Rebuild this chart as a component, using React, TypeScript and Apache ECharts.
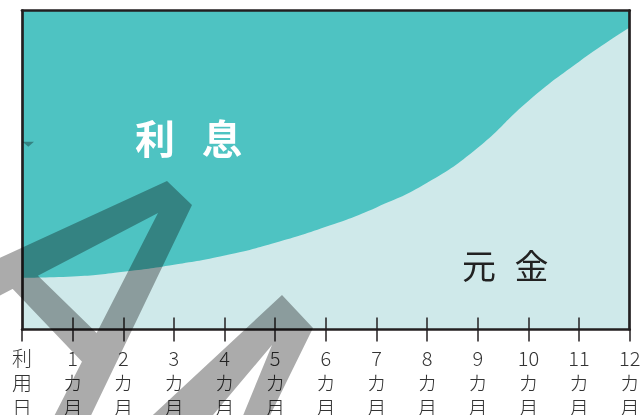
import React, { useEffect, useRef } from "react";
import * as echarts from "echarts";

const categories = ["利用日", "1カ月", "2カ月", "3カ月", "4カ月", "5カ月", "6カ月", "7カ月", "8カ月", "9カ月", "10カ月", "11カ月", "12カ月"];
// share of principal (元金) in each payment, percent
const principalShare = [16.2, 16.6, 18.1, 20.3, 23.2, 27.2, 32.2, 38.3, 46.0, 57.0, 71.7, 84.0, 94.7];
const areaLabels = ["利", "息", "元", "金"];

const overlayPath =
  "M-20,267 L167,181 L192,205 L84,430 L47,430 L158,213 L-20,306 Z " +
  "M30,268 L108,344 L88,368 L8,284 Z " +
  "M282,295 L313,328 L258,440 L233,440 L272,345 L192,440 L126,440 Z " +
  "M22.5,141.7 L34,141.7 L28.3,146.8 Z";

let registered = false;

const TEAL = "#4EC3C2";
const LIGHT = "#CFE9EA";
const INK = "#231F20";
const FONT = '"Noto Sans CJK JP", "Noto Sans", sans-serif';

export default function App() {
  const ref = useRef<HTMLDivElement>(null);
  useEffect(() => {
    if (!ref.current) return;
    if (!registered) {
      echarts.graphic.registerShape("scribble", echarts.graphic.extendPath(overlayPath, {}));
      registered = true;
    }
    const chart = echarts.init(ref.current, null, { renderer: "svg" });
    const frameLine = { show: true, lineStyle: { color: INK, width: 2.7 } };
    const fmt = (v: string) => (v.match(/\d+|./g) || []).join("\n");
    chart.setOption({
      animation: false,
      grid: {
        left: 22,
        right: 14.3,
        top: 10.7,
        bottom: 85.5,
        containLabel: false,
        outerBoundsMode: "none",
        show: true,
        backgroundColor: TEAL,
        borderWidth: 0,
      },
      xAxis: [
        {
          type: "category",
          data: categories,
          boundaryGap: false,
          position: "bottom",
          z: 5,
          axisLine: { show: true, lineStyle: { color: INK, width: 2.5 } },
          axisTick: { show: true, inside: false, length: 12, lineStyle: { color: INK, width: 1.5 } },
          axisLabel: {
            interval: 0,
            margin: 15,
            formatter: fmt,
            color: "#333",
            fontFamily: FONT,
            fontSize: 20,
            fontWeight: 300,
            lineHeight: 25,
            align: "center",
            verticalAlign: "top",
            hideOverlap: false,
          },
          splitLine: { show: false },
        },
        {
          type: "category",
          data: categories,
          boundaryGap: false,
          position: "bottom",
          z: 5,
          axisLine: { show: false },
          axisTick: {
            show: true,
            inside: true,
            length: 12,
            interval: (i: number) => i !== 0 && i !== categories.length - 1,
            lineStyle: { color: INK, width: 1.5 },
          },
          axisLabel: { show: false },
          splitLine: { show: false },
        },
        {
          type: "category",
          data: categories,
          boundaryGap: false,
          position: "top",
          z: 5,
          axisLine: frameLine,
          axisTick: { show: false },
          axisLabel: { show: false },
          splitLine: { show: false },
        },
      ],
      yAxis: [
        {
          type: "value",
          min: 0,
          max: 100,
          position: "left",
          z: 5,
          axisLine: frameLine,
          axisTick: { show: false },
          axisLabel: { show: false },
          splitLine: { show: false },
        },
        {
          type: "value",
          min: 0,
          max: 100,
          position: "right",
          z: 5,
          axisLine: frameLine,
          axisTick: { show: false },
          axisLabel: { show: false },
          splitLine: { show: false },
        },
      ],
      series: [
        {
          type: "line",
          xAxisIndex: 0,
          yAxisIndex: 0,
          data: principalShare,
          smooth: 0.5,
          symbol: "none",
          lineStyle: { width: 0, color: LIGHT },
          areaStyle: { color: LIGHT, opacity: 1 },
          z: 2,
        },
      ],
      graphic: [
        {
          type: "text",
          x: 155,
          y: 137,
          z: 20,
          style: { text: areaLabels[0], fill: "#fff", fontSize: 40, fontWeight: "bold", fontFamily: FONT, align: "center", verticalAlign: "middle", textAlign: "center", textVerticalAlign: "middle" },
        },
        {
          type: "text",
          x: 222,
          y: 137,
          z: 20,
          style: { text: areaLabels[1], fill: "#fff", fontSize: 40, fontWeight: "bold", fontFamily: FONT, align: "center", verticalAlign: "middle", textAlign: "center", textVerticalAlign: "middle" },
        },
        {
          type: "text",
          x: 479,
          y: 264,
          z: 20,
          style: { text: areaLabels[2], fill: "#222", fontSize: 34, fontFamily: FONT, align: "center", verticalAlign: "middle", textAlign: "center", textVerticalAlign: "middle" },
        },
        {
          type: "text",
          x: 531.5,
          y: 264,
          z: 20,
          style: { text: areaLabels[3], fill: "#222", fontSize: 34, fontFamily: FONT, align: "center", verticalAlign: "middle", textAlign: "center", textVerticalAlign: "middle" },
        },
        {
          type: "scribble",
          x: 0,
          y: 0,
          z: 50,
          silent: true,
          style: { fill: "#000", opacity: 0.33 },
        },
      ],
    });
    return () => chart.dispose();
  }, []);
  return (
    <div
      ref={ref}
      style={{ position: "fixed", left: 0, top: 0, width: 644, height: 415 }}
    />
  );
}
